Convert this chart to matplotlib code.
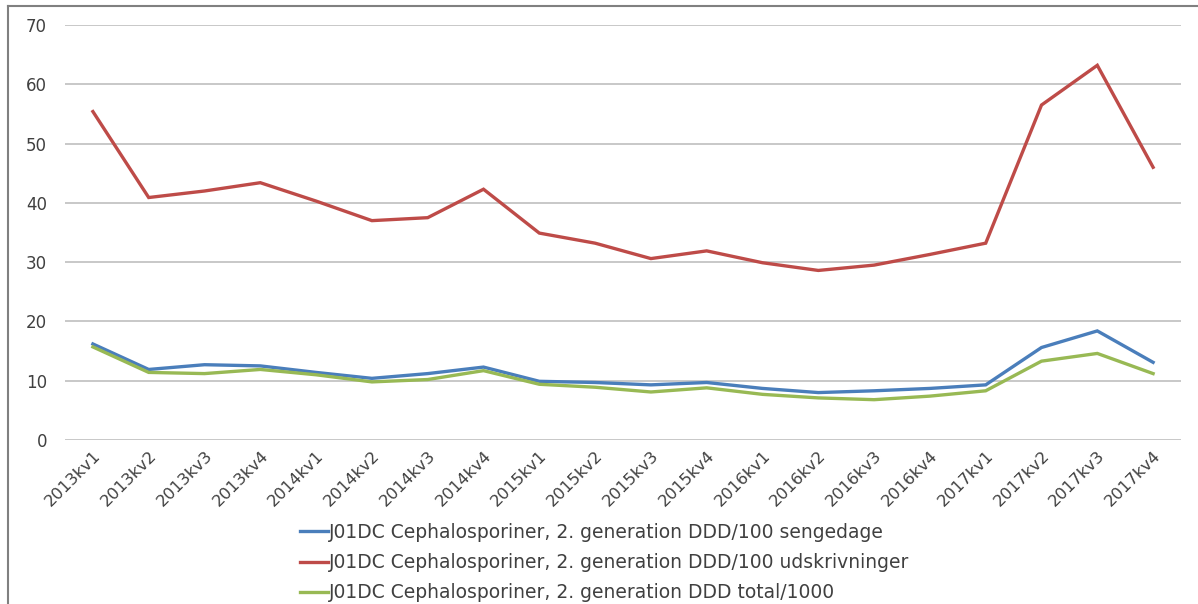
import matplotlib
matplotlib.use("Agg")
import matplotlib.pyplot as plt
from matplotlib.lines import Line2D

categories = ["2013kv1", "2013kv2", "2013kv3", "2013kv4",
              "2014kv1", "2014kv2", "2014kv3", "2014kv4",
              "2015kv1", "2015kv2", "2015kv3", "2015kv4",
              "2016kv1", "2016kv2", "2016kv3", "2016kv4",
              "2017kv1", "2017kv2", "2017kv3", "2017kv4"]

sengedage = [16.2, 11.9, 12.7, 12.5, 11.4, 10.4, 11.2, 12.3, 9.9, 9.7,
             9.3, 9.7, 8.7, 8.0, 8.3, 8.7, 9.3, 15.6, 18.4, 13.1]
udskrivninger = [55.4, 40.9, 42.0, 43.4, 40.3, 37.0, 37.5, 42.3, 34.9, 33.2,
                 30.6, 31.9, 29.9, 28.6, 29.5, 31.3, 33.2, 56.5, 63.2, 46.0]
total = [15.7, 11.4, 11.2, 11.9, 11.0, 9.8, 10.2, 11.7, 9.4, 8.9,
         8.1, 8.8, 7.7, 7.1, 6.8, 7.4, 8.3, 13.3, 14.6, 11.2]

labels = ["J01DC Cephalosporiner, 2. generation DDD/100 sengedage",
          "J01DC Cephalosporiner, 2. generation DDD/100 udskrivninger",
          "J01DC Cephalosporiner, 2. generation DDD total/1000"]
yticks = [0, 10, 20, 30, 40, 50, 60, 70]

colors = ["#4A7EBB", "#BE4B48", "#98B954"]

plt.rcParams['font.family'] = ['DejaVu Sans']

W, H = 1198, 604
fig = plt.figure(figsize=(W / 100, H / 100), dpi=100)
ax = fig.add_axes([65 / W, 1 - 440 / H, (1181 - 65) / W, (440 - 25) / H])

x = list(range(len(categories)))
for series, c in zip([sengedage, udskrivninger, total], colors):
    ax.plot(x, series, color=c, lw=2.4, solid_joinstyle='miter')

ax.set_xlim(-0.5, len(categories) - 0.5)
ax.set_ylim(0, 70)
ax.set_yticks(yticks)
ax.set_yticklabels([str(v) for v in yticks], fontsize=12, color="#404040")
ax.set_xticks(x)
ax.set_xticklabels(categories, rotation=45, ha="right", rotation_mode="anchor",
                   fontsize=11.8, color="#404040")
ax.tick_params(axis='y', length=0, pad=13)
ax.tick_params(axis='x', length=0, pad=6)
ax.grid(axis='y', color="#BFBFBF", lw=1.2)
ax.set_axisbelow(True)
for s in ax.spines.values():
    s.set_visible(False)

# outer chart border (left and top)
fig.add_artist(Line2D([8 / W, 8 / W], [0, 1 - 6 / H], transform=fig.transFigure,
                      color="#808080", lw=1.5))
fig.add_artist(Line2D([8 / W, 1], [1 - 6 / H, 1 - 6 / H], transform=fig.transFigure,
                      color="#808080", lw=1.5))

handles = [Line2D([], [], color=c, lw=2.4) for c in colors]
fig.legend(handles, labels, loc="upper left", bbox_to_anchor=(283 / W, 1 - 506 / H),
           frameon=False, fontsize=13.5, handlelength=1.5, handletextpad=0.05,
           labelspacing=0.6, labelcolor="#404040")

fig.savefig("out.png", dpi=100)
